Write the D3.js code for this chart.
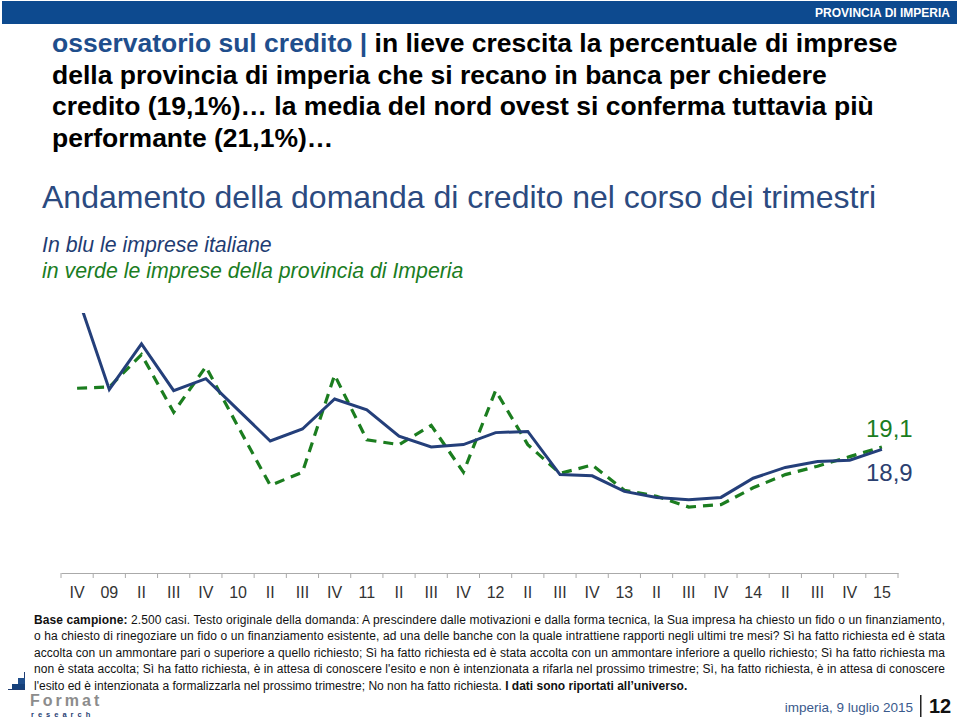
<!DOCTYPE html>
<html>
<head>
<meta charset="utf-8">
<script src="https://cdn.jsdelivr.net/npm/d3@7"></script>
<style>
  html, body { margin: 0; padding: 0; background: #fff; }
  svg { display: block; font-family: "Liberation Sans", Arial, Helvetica, sans-serif; }
</style>
</head>
<body>
<svg id="chart" width="960" height="718"></svg>
<script>
// ---- data ----
const categories = ["IV-08","09","II-09","III-09","IV-09","10","II-10","III-10","IV-10","11","II-11","III-11","IV-11","12","II-12","III-12","IV-12","13","II-13","III-13","IV-13","14","II-14","III-14","IV-14","15"];
const tickLabels = ["IV","09","II","III","IV","10","II","III","IV","11","II","III","IV","12","II","III","IV","13","II","III","IV","14","II","III","IV","15"];
const italia = [31.8,23.9,27.7,23.8,24.8,22.2,19.6,20.6,23.1,22.2,20.0,19.1,19.3,20.3,20.4,16.8,16.7,15.4,14.9,14.7,14.9,16.5,17.4,17.9,18.0,18.9];
const imperia = [24.0,24.1,26.8,22.0,25.8,20.8,15.9,17.0,25.1,19.7,19.3,20.9,17.0,23.8,19.3,16.9,17.6,15.5,15.0,14.1,14.3,15.7,16.8,17.5,18.3,19.1];
const lastLabels = ["19,1","18,9"];

const titleLines = [
  [{t:"osservatorio sul credito | ", c:"#1f4e8c"},{t:"in lieve crescita la percentuale di imprese", c:"#000"}],
  [{t:"della provincia di imperia che si recano in banca per chiedere", c:"#000"}],
  [{t:"credito (19,1%)…  la media del nord ovest si conferma tuttavia più", c:"#000"}],
  [{t:"performante (21,1%)…", c:"#000"}]
];
const footLines = [
  [{t:"Base campione:", b:true},{t:" 2.500 casi. Testo originale della domanda: A prescindere dalle motivazioni e dalla  forma tecnica, la Sua impresa ha chiesto un fido  o un finanziamento,"}],
  [{t:"o ha chiesto di rinegoziare un fido o un finanziamento esistente, ad una delle banche con la quale intrattiene rapporti negli ultimi tre mesi?  Sì ha fatto richiesta ed è stata"}],
  [{t:"accolta con un ammontare pari o superiore a quello richiesto; Sì ha fatto richiesta ed è stata accolta con un ammontare inferiore a quello richiesto; Sì ha fatto richiesta ma"}],
  [{t:"non è stata accolta; Sì ha fatto richiesta, è in attesa di conoscere l'esito e non è intenzionata a rifarla nel prossimo trimestre; Sì, ha fatto richiesta, è in attesa di conoscere"}],
  [{t:"l'esito ed è intenzionata a formalizzarla nel prossimo trimestre; No non ha fatto richiesta. "},{t:"I dati sono riportati all’universo.", b:true}]
];

const svg = d3.select("#chart");

// header bar
svg.append("rect").attr("x",2).attr("y",1).attr("width",955).attr("height",23).attr("fill","#0d4a8f");
svg.append("text").attr("x",950).attr("y",17).attr("text-anchor","end")
  .attr("fill","#fff").attr("font-size",12).attr("font-weight","bold").text("PROVINCIA DI IMPERIA");

// title
titleLines.forEach((parts,i) => {
  const t = svg.append("text").attr("x",52).attr("y",52 + i*31.5)
    .attr("font-size",26.5).attr("font-weight","bold");
  parts.forEach(p => t.append("tspan").attr("fill",p.c).text(p.t));
});

svg.append("text").attr("x",42).attr("y",208).attr("font-size",32).attr("fill","#2b4a80")
  .text("Andamento della domanda di credito nel corso dei trimestri");
svg.append("text").attr("x",42).attr("y",252).attr("font-size",21.3).attr("font-style","italic")
  .attr("fill","#1f3d73").text("In blu le imprese italiane");
svg.append("text").attr("x",42).attr("y",278).attr("font-size",21.3).attr("font-style","italic")
  .attr("fill","#1b7d1f").text("in verde le imprese della provincia di Imperia");

// scales
const x = d3.scaleBand().domain(categories).range([61, 898]).paddingInner(0).paddingOuter(0);
const y = d3.scaleLinear().domain([8.6, 30.27]).range([573, 313]);
const cx = d => x(d) + x.bandwidth()/2;

// axis
const axisG = svg.append("g").attr("transform","translate(0,573)");
axisG.call(d3.axisBottom(x).tickSize(0).tickFormat((d,i) => tickLabels[i]));
axisG.select(".domain").attr("stroke","#aaa");
axisG.selectAll("text").attr("font-size",16).attr("fill","#333").attr("dy","1.35em")
  .attr("font-family","Liberation Sans, Arial, sans-serif");
const bounds = categories.map(c => x(c)).concat([x.range()[1]]);
axisG.selectAll("line.bt").data(bounds).join("line").attr("class","bt")
  .attr("x1",d=>d).attr("x2",d=>d).attr("y1",0).attr("y2",5).attr("stroke","#aaa");

// clip
svg.append("clipPath").attr("id","plotclip").append("rect")
  .attr("x",0).attr("y",313).attr("width",960).attr("height",260);

const line = d3.line().x((d,i) => cx(categories[i])).y(d => y(d));
const plot = svg.append("g").attr("clip-path","url(#plotclip)");
plot.append("path").datum(imperia).attr("d",line).attr("fill","none")
  .attr("stroke","#1b7d1f").attr("stroke-width",3.2).attr("stroke-dasharray","10,7");
plot.append("path").datum(italia).attr("d",line).attr("fill","none")
  .attr("stroke","#243f7a").attr("stroke-width",3);

// end labels
svg.append("text").attr("x",866).attr("y",437).attr("font-size",24).attr("fill","#1b7d1f").text(lastLabels[0]);
svg.append("text").attr("x",866).attr("y",481).attr("font-size",24).attr("fill","#2b4070").text(lastLabels[1]);

// footnote
footLines.forEach((parts,i) => {
  const t = svg.append("text").attr("x",34).attr("y",623.5 + i*16.5).attr("font-size",12).attr("fill","#111");
  if (i < 4) t.attr("textLength",911).attr("lengthAdjust","spacing");
  parts.forEach(p => t.append("tspan").attr("font-weight", p.b ? "bold" : "normal").text(p.t));
});

// logo
const logo = svg.append("g");
logo.append("rect").attr("x",24).attr("y",672).attr("width",1).attr("height",6).attr("fill","#1f3d73");
logo.append("rect").attr("x",18).attr("y",678).attr("width",7).attr("height",7).attr("fill","#1f4e8c");
logo.append("rect").attr("x",12).attr("y",684).attr("width",13).attr("height",6).attr("fill","#16407a");
logo.append("rect").attr("x",8).attr("y",689).attr("width",17).attr("height",1).attr("fill","#1f3d73");
logo.append("text").attr("x",30).attr("y",706.3).attr("font-size",16).attr("font-weight","bold")
  .attr("fill","#8c8c8c").attr("letter-spacing",3).text("Format");
logo.append("text").attr("x",31).attr("y",717.3).attr("font-size",7.5).attr("font-weight","bold")
  .attr("fill","#1f3d73").attr("letter-spacing",4).text("research");

// page footer
svg.append("text").attr("x",913).attr("y",712).attr("text-anchor","end").attr("font-size",13.5)
  .attr("fill","#3a5a8c").text("imperia, 9 luglio 2015");
svg.append("rect").attr("x",920).attr("y",695).attr("width",1.5).attr("height",22).attr("fill","#222");
svg.append("text").attr("x",929).attr("y",713).attr("font-size",20).attr("font-weight","bold")
  .attr("fill","#111").text("12");
</script>
</body>
</html>
